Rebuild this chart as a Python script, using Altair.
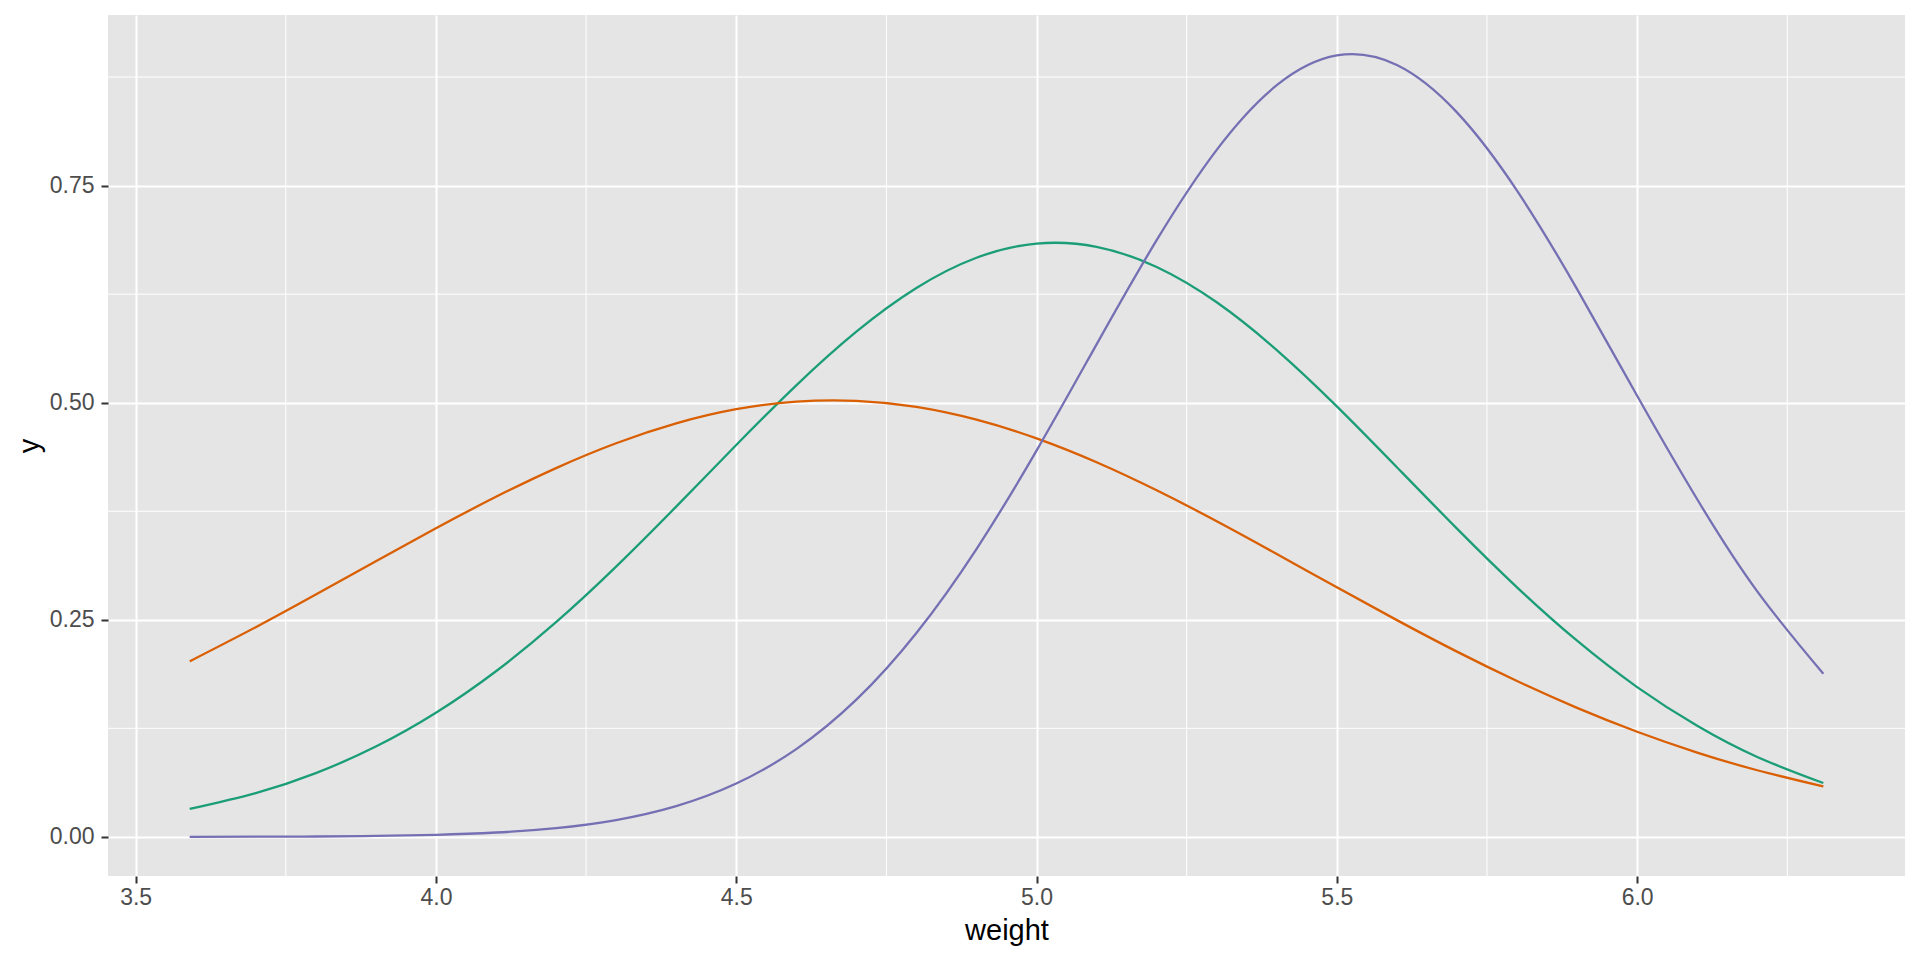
import altair as alt
import pandas as pd

# x positions (weight)
weight = [3.59, 3.7, 3.8, 3.9, 4.0, 4.1, 4.2, 4.3, 4.4, 4.5, 4.6, 4.7, 4.8, 4.9, 5.0,
          5.1, 5.2, 5.3, 5.4, 5.5, 5.6, 5.7, 5.8, 5.9, 6.0, 6.1, 6.2, 6.31]

# orange curve (trt1)
y_trt1 = [0.2022, 0.2415, 0.2791, 0.3174, 0.3554, 0.3916, 0.4247, 0.4533, 0.4762, 0.4925,
          0.5012, 0.5021, 0.4951, 0.4804, 0.4589, 0.4314, 0.3991, 0.3635, 0.3258, 0.2874,
          0.2496, 0.2133, 0.1795, 0.1486, 0.1211, 0.0971, 0.0767, 0.0580]
# green curve (ctrl)
y_ctrl = [0.0321, 0.0504, 0.0734, 0.1040, 0.1429, 0.1907, 0.2472, 0.3112, 0.3803, 0.4512,
          0.5200, 0.5818, 0.6321, 0.6669, 0.6832, 0.6795, 0.6563, 0.6156, 0.5606, 0.4958,
          0.4257, 0.3550, 0.2874, 0.2259, 0.1725, 0.1279, 0.0920, 0.0620]
# purple curve (trt2)
y_trt2 = [0.0001, 0.0002, 0.0004, 0.0011, 0.0024, 0.0050, 0.0101, 0.0194, 0.0354, 0.0614,
          0.1011, 0.1580, 0.2348, 0.3315, 0.4448, 0.5672, 0.6872, 0.7912, 0.8656, 0.8999,
          0.8889, 0.8343, 0.7442, 0.6308, 0.5080, 0.3888, 0.2827, 0.1878]

groups = ["ctrl", "trt1", "trt2"]
colors = ["#1B9E77", "#D95F02", "#7570B3"]

x_ticks = [3.5, 4.0, 4.5, 5.0, 5.5, 6.0]
x_minor = [3.75, 4.25, 4.75, 5.25, 5.75, 6.25]
y_ticks = [0.0, 0.25, 0.5, 0.75]
y_minor = [0.125, 0.375, 0.625, 0.875]

x_domain = [3.454, 6.446]
y_domain = [-0.04507, 0.94647]

rows = []
for g, ys in zip(groups, [y_ctrl, y_trt1, y_trt2]):
    for xv, yv in zip(weight, ys):
        rows.append({"group": g, "weight": xv, "y": yv})
df = pd.DataFrame(rows)

xs = alt.Scale(domain=x_domain, nice=False, zero=False)
ys_ = alt.Scale(domain=y_domain, nice=False, zero=False)

vminor = alt.Chart(pd.DataFrame({"v": x_minor})).mark_rule(
    color="white", strokeWidth=1
).encode(x=alt.X("v:Q", scale=xs))

hminor = alt.Chart(pd.DataFrame({"v": y_minor})).mark_rule(
    color="white", strokeWidth=1
).encode(y=alt.Y("v:Q", scale=ys_))

lines = alt.Chart(df).mark_line(strokeWidth=2.3, interpolate="natural").encode(
    x=alt.X("weight:Q", scale=xs, title="weight",
            axis=alt.Axis(values=x_ticks, format=".1f")),
    y=alt.Y("y:Q", scale=ys_, title="y",
            axis=alt.Axis(values=y_ticks, format=".2f")),
    color=alt.Color("group:N", scale=alt.Scale(domain=groups, range=colors), legend=None),
    detail="group:N",
)

chart = alt.layer(vminor, hminor, lines).properties(
    width=1797, height=861,
    padding={"left": 100, "top": 7, "right": 7, "bottom": 76},
    autosize="none",
).configure_view(
    fill="#E5E5E5", stroke=None
).configure_axis(
    domain=False,
    grid=True,
    gridColor="white",
    gridWidth=2,
    tickColor="#333333",
    tickWidth=2,
    tickSize=7,
    labelColor="#4D4D4D",
    labelFont="Liberation Sans",
    labelFontSize=23,
    titleFont="Liberation Sans",
    titleFontSize=29,
    titleFontWeight="normal",
    titleColor="black",
).configure_axisX(
    labelPadding=3, titlePadding=7
).configure_axisY(
    labelPadding=7, titlePadding=5
)

chart.save("out.html", embed_options={"renderer": "svg", "actions": False})
